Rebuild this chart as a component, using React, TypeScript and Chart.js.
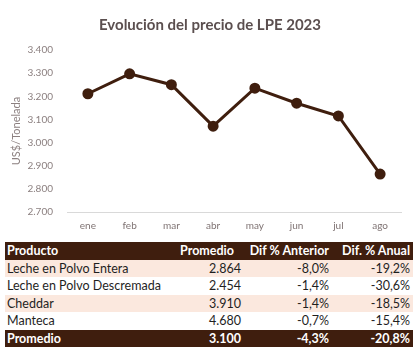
import React, { useEffect, useRef } from "react";
import { Chart, registerables } from "chart.js";

Chart.register(...registerables);

const months = ["ene", "feb", "mar", "abr", "may", "jun", "jul", "ago"];
const prices = [3211, 3297, 3250, 3071, 3235, 3170, 3115, 2864];
const yMin = 2700;
const yMax = 3400;
const yStep = 100;

const products = ["Leche en Polvo Entera", "Leche en Polvo Descremada", "Cheddar", "Manteca"];
const averages = ["2.864", "2.454", "3.910", "4.680"];
const difPrev = ["-8,0%", "-1,4%", "-1,4%", "-0,7%"];
const difYear = ["-19,2%", "-30,6%", "-18,5%", "-15,4%"];
const totalRow = ["Promedio", "3.100", "-4,3%", "-20,8%"];
const headers = ["Producto", "Promedio", "Dif % Anterior", "Dif. % Anual"];

const brown = "#3f1e0e";
const pink = "#fbe8de";

function fmt(v: number) {
  const th = Math.floor(v / 1000);
  const rest = String(Math.round(v % 1000)).padStart(3, "0");
  return th + "." + rest;
}

export default function App() {
  const ref = useRef<HTMLCanvasElement | null>(null);
  useEffect(() => {
    if (!ref.current) return;
    const chart = new Chart(ref.current, {
      type: "line",
      data: {
        labels: months,
        datasets: [
          {
            data: prices,
            borderColor: brown,
            backgroundColor: brown,
            borderWidth: 3,
            pointRadius: 4,
            pointBackgroundColor: brown,
            pointBorderColor: brown,
            tension: 0,
          },
        ],
      },
      options: {
        animation: false,
        responsive: false,
        maintainAspectRatio: false,
        layout: { padding: { left: 19, right: 19, top: 0, bottom: 0 } },
        plugins: {
          legend: { display: false },
          tooltip: { enabled: false },
          title: {
            display: true,
            text: "Evolución del precio de LPE 2023",
            color: "#5b4f4f",
            font: { family: "Lato", size: 15, weight: "bold" },
            padding: { top: 16, bottom: 16 },
          },
        },
        scales: {
          x: {
            offset: true,
            grid: { display: false, drawTicks: false },
            border: { display: true, color: "#d9d9d9", width: 1 },
            ticks: { color: "#7f7373", font: { family: "Lato", size: 10 }, padding: 8 },
            afterFit: (s: any) => {
              s.height = 28;
            },
          },
          y: {
            min: yMin,
            max: yMax,
            grid: { display: false, drawTicks: false },
            border: { display: false },
            ticks: {
              stepSize: yStep,
              color: "#8c8080",
              font: { family: "Lato", size: 10 },
              padding: 14,
              callback: (v: any) => fmt(Number(v)),
            },
            title: {
              display: true,
              text: "US$/Tonelada",
              color: "#8c8080",
              font: { family: "Lato", size: 11 },
              padding: { top: -9, bottom: 0 },
            },
            afterFit: (s: any) => {
              s.width = 48;
            },
          },
        },
      },
    });
    return () => chart.destroy();
  }, []);

  const cellBase: React.CSSProperties = {
    padding: "0 3px",
    height: 17.5,
    lineHeight: "17.5px",
    whiteSpace: "nowrap",
  };
  const colW = [165, 74, 88, 81];

  return (
    <div
      style={{
        position: "absolute",
        left: 0,
        top: 0,
        width: 420,
        height: 351,
        background: "#fff",
        overflow: "hidden",
        fontFamily: "Lato, sans-serif",
      }}
    >
      <canvas ref={ref} width={420} height={240} style={{ position: "absolute", left: 0, top: 0 }} />
      <table
        style={{
          position: "absolute",
          left: 5,
          top: 242,
          width: 408,
          borderCollapse: "collapse",
          tableLayout: "fixed",
          fontSize: 12.5,
          color: "#1f1f1f",
        }}
      >
        <colgroup>
          {colW.map((w, i) => (
            <col key={i} style={{ width: w }} />
          ))}
        </colgroup>
        <tbody>
          <tr style={{ background: brown, color: "#fff", fontWeight: "bold" }}>
            {headers.map((h, i) => (
              <td
                key={i}
                style={{
                  ...cellBase,
                  textAlign: i === 0 ? "left" : i === 1 ? "center" : "right",
                  paddingLeft: i === 0 ? 2 : 3,
                }}
              >
                {h}
              </td>
            ))}
          </tr>
          {products.map((p, r) => (
            <tr key={r} style={{ background: r % 2 === 0 ? pink : "#fff" }}>
              <td style={{ ...cellBase, paddingLeft: 2 }}>{p}</td>
              <td style={{ ...cellBase, textAlign: "right" }}>{averages[r]}</td>
              <td style={{ ...cellBase, textAlign: "right" }}>{difPrev[r]}</td>
              <td style={{ ...cellBase, textAlign: "right" }}>{difYear[r]}</td>
            </tr>
          ))}
          <tr style={{ background: brown, color: "#fff", fontWeight: "bold" }}>
            {totalRow.map((t, i) => (
              <td
                key={i}
                style={{ ...cellBase, textAlign: i === 0 ? "left" : "right", paddingLeft: i === 0 ? 2 : 3 }}
              >
                {t}
              </td>
            ))}
          </tr>
        </tbody>
      </table>
    </div>
  );
}
